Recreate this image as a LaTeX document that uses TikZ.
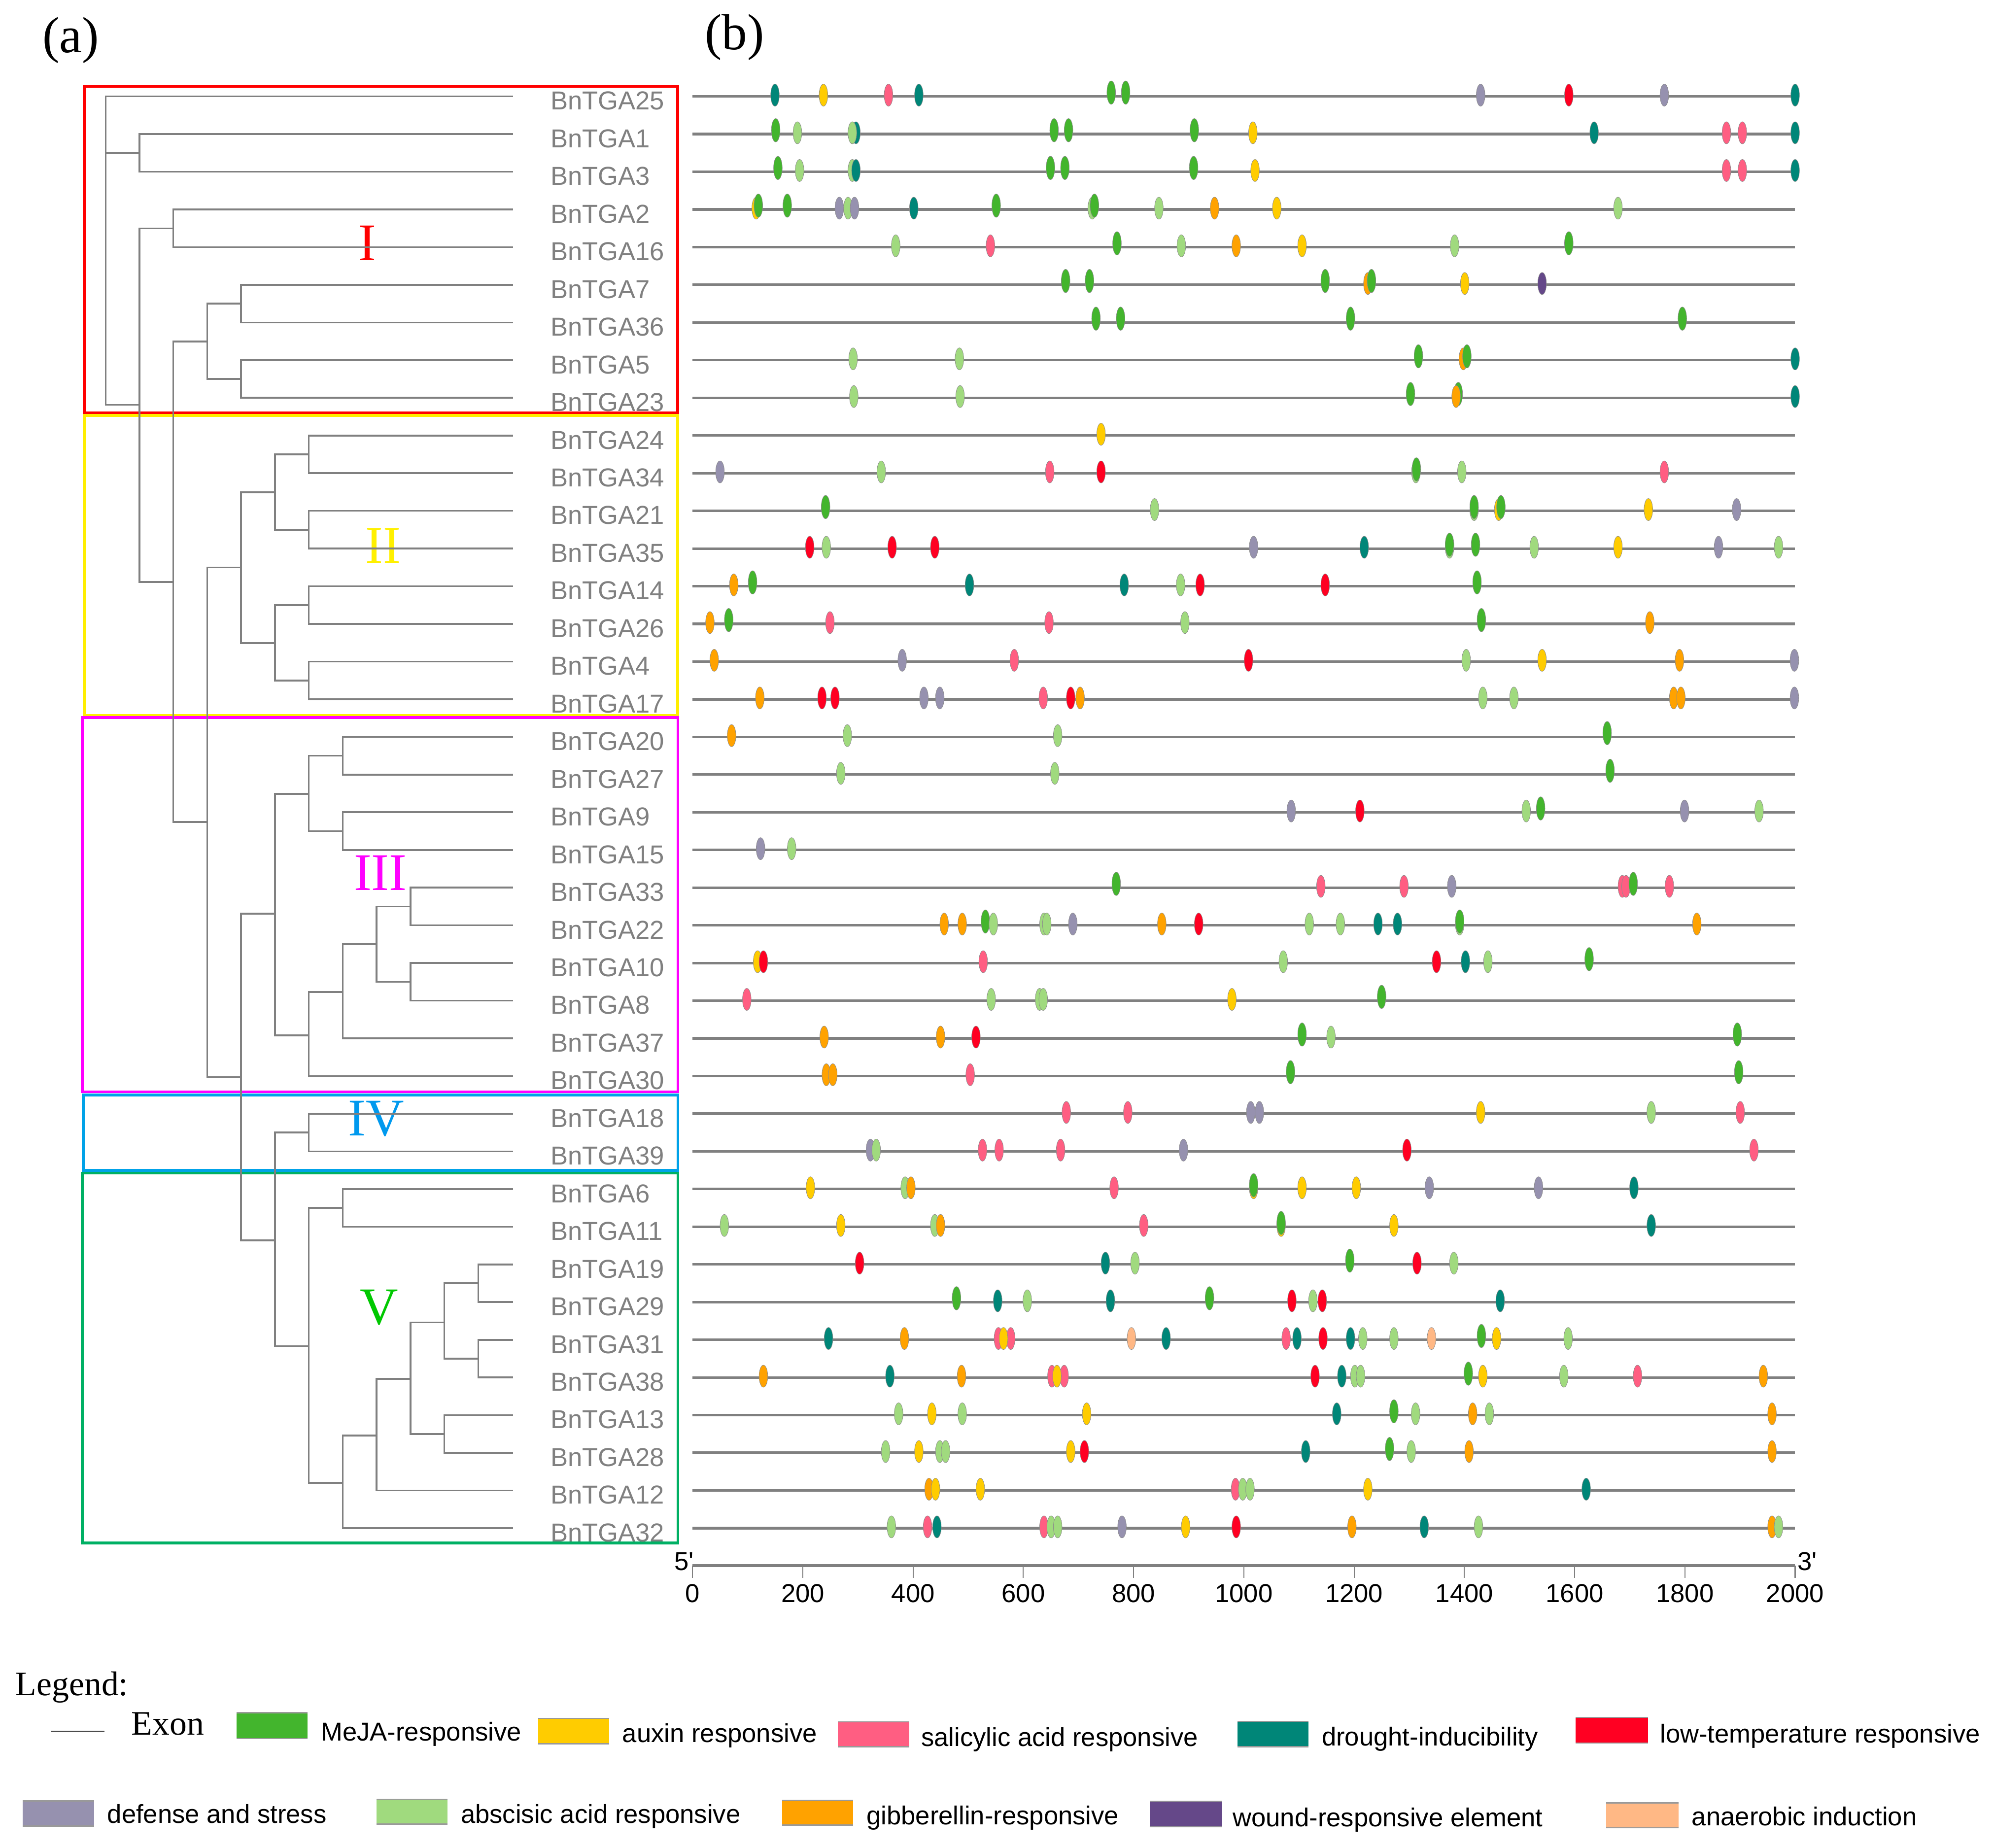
\documentclass[tikz,border=0pt]{standalone}
\usepackage{fontspec}
\setmainfont{Liberation Serif}
\setsansfont{Liberation Sans}
\definecolor{cM}{RGB}{67,181,45}
\definecolor{cX}{RGB}{255,204,0}
\definecolor{cS}{RGB}{255,94,130}
\definecolor{cD}{RGB}{0,134,120}
\definecolor{cL}{RGB}{255,0,34}
\definecolor{cF}{RGB}{150,145,175}
\definecolor{cA}{RGB}{160,218,126}
\definecolor{cG}{RGB}{255,162,0}
\definecolor{cW}{RGB}{101,72,137}
\definecolor{cN}{RGB}{255,184,133}
\definecolor{treegray}{RGB}{128,128,128}
\definecolor{labgray}{RGB}{128,128,128}
\definecolor{boxred}{RGB}{255,0,0}
\definecolor{boxyellow}{RGB}{255,238,0}
\definecolor{boxmag}{RGB}{255,0,255}
\definecolor{boxblue}{RGB}{0,162,232}
\definecolor{boxgreen}{RGB}{0,176,100}
\definecolor{numyellow}{RGB}{255,240,0}
\definecolor{numblue}{RGB}{0,153,238}
\definecolor{numgreen}{RGB}{0,200,0}
\tikzset{
  treeline/.style={draw=treegray, line width=0.7pt, line cap=rect},
  trackline/.style={draw=treegray, line width=1.0pt},
  tickline/.style={draw=treegray, line width=0.4pt},
  motifshape/.style={draw=black!45, line width=0.15pt},
  cladebox/.style={line width=1.1pt},
  romanlabel/.style={font=\fontsize{20.8}{24}\selectfont, inner sep=0pt, anchor=base},
  panel/.style={font=\fontsize{20}{24}\selectfont, inner sep=0pt, anchor=base west},
  genelabel/.style={font=\sffamily\fontsize{10.2}{12}\selectfont, text=labgray, inner sep=0pt, anchor=base west},
  axislabel/.style={font=\sffamily\fontsize{10.2}{12}\selectfont, inner sep=0pt, anchor=base},
  legtext/.style={font=\sffamily\fontsize{10.2}{12}\selectfont, inner sep=0pt, anchor=base west},
  legserif/.style={font=\fontsize{13.5}{16}\selectfont, inner sep=0pt, anchor=base west},
  legedge/.style={draw=black!40, line width=0.5pt},
}
\def\mletM{M}
\newcommand\motifat[3]{%
  \def\mtmp{#3}%
  \ifx\mtmp\mletM
    \path[motifshape, fill=cM] ({544.6+0.4335*#2},{75.8+29.63*#1-3}) ellipse [x radius=1.7pt, y radius=4.6pt];
  \else
    \path[motifshape, fill=c#3] ({544.6+0.4335*#2},{75.8+29.63*#1-1}) ellipse [x radius=1.7pt, y radius=4.35pt];
  \fi}
\newcommand\mrow[2]{\foreach \v/\c in {#2}{\edef\mtmpb{\noexpand\motifat{#1}{\v}{\c}}\mtmpb}}
\newcommand\legbox[5]{%
  \fill[#1] (#2,#3) rectangle (#4,#5);
  \draw[legedge] (#2,#3) -- (#4,#3);
  \draw[legedge] (#2,#5) -- (#4,#5);}
\begin{document}
\begin{tikzpicture}[x=0.5pt,y=-0.5pt]
\useasboundingbox (0,0) rectangle (1568,1453);
% panel letters
\node[panel] (pa) at (33,41.1) {(a)};
\node[panel] (pb) at (554,38.8) {(b)};
% clade boxes
\draw[cladebox, draw=boxred] (66.2,67.8) rectangle (532.8,324.6);
\draw[cladebox, draw=boxyellow] (66.2,326.6) rectangle (532.8,562.5);
\draw[cladebox, draw=boxmag] (64.6,564.2) rectangle (533.0,858.6);
\draw[cladebox, draw=boxblue] (65.5,861.0) rectangle (533.0,920.3);
\draw[cladebox, draw=boxgreen] (64.6,922.5) rectangle (533.0,1213.4);
\node[romanlabel, text=boxred] (nI) at (288.9,205) {I};
\node[romanlabel, text=numyellow] (nII) at (301.4,442.8) {II};
\node[romanlabel, text=boxmag] (nIII) at (299.1,700.2) {III};
\node[romanlabel, text=numblue] (nIV) at (295.9,893) {IV};
\node[romanlabel, text=numgreen] (nV) at (298.2,1041.6) {V};
% tree: leaves
\foreach \i/\lx in {0/83.2,1/109.6,2/109.6,3/136.2,4/136.2,5/189.5,6/189.5,7/189.5,8/189.5,
  9/242.8,10/242.8,11/242.8,12/242.8,13/242.8,14/242.8,15/242.8,16/242.8,
  17/269.5,18/269.5,19/269.5,20/269.5,21/322.8,22/322.8,23/322.8,24/322.8,25/269.5,26/242.8,
  27/242.8,28/242.8,29/269.5,30/269.5,31/376.1,32/376.1,33/376.1,34/376.1,35/349.4,36/349.4,37/296.1,38/269.5}
  \draw[treeline] (\lx,{75.8+29.63*\i}) -- (402.7,{75.8+29.63*\i});
% tree: verticals
\foreach \x/\ya/\yb in {83.2/75.8/318.4, 109.6/105.43/135.06, 109.6/179.6/457.6, 136.2/164.69/194.32,
  136.2/268.6/646.4, 162.9/238.8/298.0, 189.5/223.95/253.58, 189.5/283.21/312.84,
  162.9/446.3/847.2, 189.5/387.2/505.8, 216.2/357.3/416.6, 242.8/342.47/372.10, 242.8/401.73/431.36,
  216.2/475.8/535.1, 242.8/460.99/490.62, 242.8/520.25/549.88,
  189.5/718.6/975.4, 216.2/624.2/814.1, 242.8/594.3/653.6, 269.5/579.51/609.14, 269.5/638.77/668.40,
  242.8/780.2/846.18, 269.5/742.5/816.55, 296.1/712.8/772.1, 322.8/698.03/727.66, 322.8/757.29/786.92,
  216.2/890.6/1058.6, 242.8/875.81/905.44, 242.8/949.9/1166.0, 269.5/935.07/964.70,
  269.5/1129.0/1201.74, 296.1/1084.4/1172.11, 322.8/1039.9/1127.7, 349.4/1009.1/1068.4,
  376.1/994.33/1023.96, 376.1/1053.59/1083.22, 349.4/1112.85/1142.48}
  \draw[treeline] (\x,\ya) -- (\x,\yb);
% tree: internal horizontals
\foreach \y/\xa/\xb in {120.2/83.2/109.6, 318.4/83.2/109.6, 179.6/109.6/136.2, 457.6/109.6/136.2,
  268.6/136.2/162.9, 238.8/162.9/189.5, 298.0/162.9/189.5, 646.4/136.2/162.9, 446.3/162.9/189.5,
  387.2/189.5/216.2, 357.3/216.2/242.8, 416.6/216.2/242.8, 505.8/189.5/216.2, 475.8/216.2/242.8,
  535.1/216.2/242.8, 847.2/162.9/189.5, 718.6/189.5/216.2, 624.2/216.2/242.8, 594.3/242.8/269.5,
  653.6/242.8/269.5, 814.1/216.2/242.8, 780.2/242.8/269.5, 742.5/269.5/296.1, 712.8/296.1/322.8,
  772.1/296.1/322.8, 975.4/189.5/216.2, 890.6/216.2/242.8, 1058.6/216.2/242.8, 949.9/242.8/269.5,
  1166.0/242.8/269.5, 1129.0/269.5/296.1, 1084.4/296.1/322.8, 1039.9/322.8/349.4, 1009.1/349.4/376.1,
  1068.4/349.4/376.1, 1127.7/322.8/349.4}
  \draw[treeline] (\xa,\y) -- (\xb,\y);
% gene labels
\foreach \n [count=\i from 0] in {25,1,3,2,16,7,36,5,23,24,34,21,35,14,26,4,17,20,27,9,15,33,22,10,8,37,30,18,39,6,11,19,29,31,38,13,28,12,32}
  \node[genelabel] (g\n) at (432.5,{75.8+29.63*\i+10.6}) {BnTGA\n};
% tracks
\foreach \i in {0,...,38}
  \draw[trackline] (544.6,{75.8+29.63*\i}) -- (1411.6,{75.8+29.63*\i});
% motifs
\mrow{0}{149.5/D,237.4/X,355.4/S,410.5/D,759.4/M,785.6/M,1429.5/F,1589.5/L,1762.7/F,2000/D}
\mrow{1}{150.8/M,190.2/A,296.4/D,289.8/A,655.8/M,682.0/M,910.2/M,1016.4/X,1635.4/D,1875.4/S,1904.3/S,2000/D}
\mrow{2}{154.8/M,194.1/A,289.8/A,296.4/D,649.2/M,675.4/M,908.9/M,1020.3/X,1875.4/S,1904.3/S,2000/D}
\mrow{3}{115.4/X,119.3/M,171.8/M,266.2/F,282.0/A,293.8/F,401.3/D,550.8/M,725/A,729/M,845.9/A,946.9/G,1059.7/X,1678.7/A}
\mrow{4}{368.5/A,540.3/S,769.9/M,886.6/A,986.2/G,1105.6/X,1382.3/A,1589.5/M}
\mrow{5}{676.7/M,720.0/M,1147.6/M,1225.0/G,1231.5/M,1400.7/X,1541.0/W}
\mrow{6}{731.8/M,776.4/M,1193.5/M,1795.4/M}
\mrow{7}{291.2/A,484.0/A,1316.7/M,1398.1/G,1404.6/M,2000/D}
\mrow{8}{292.5/A,485.3/A,1302.3/M,1388.9/M,1385.0/G,2000/D}
\mrow{9}{741.0/X}
\mrow{10}{49.8/F,342.3/A,647.9/S,741.0/L,1312/A,1313/M,1395.4/A,1762.7/S}
\mrow{11}{241.3/M,838.0/A,1417.7/A,1417.7/M,1462.3/X,1466.3/M,1733.8/X,1893.8/F}
\mrow{12}{212.5/L,242.6/A,362.0/L,439.4/L,1017.7/F,1218.4/D,1373.1/A,1373.1/M,1420.3/M,1526.6/A,1678.7/X,1861.0/F,1969.9/A}
\mrow{13}{74.8/G,108.9/M,502.3/D,783.0/D,885.3/A,920.7/L,1147.6/L,1423.0/M}
\mrow{14}{31.5/G,65.6/M,249.2/S,646.6/S,893.1/A,1430.9/M,1736.4/G}
\mrow{15}{39.3/G,380.3/F,583.6/S,1008.5/L,1403.3/A,1541.0/X,1790.2/G,1998.7/F}
\mrow{16}{122.0/G,234.8/L,258.4/L,419.7/F,448.5/F,636.1/S,685.9/L,703.0/G,1433.5/A,1489.9/A,1779.7/G,1792.8/G,1998.7/F}
\mrow{17}{70.8/G,280.7/A,662.3/A,1659.0/M}
\mrow{18}{268.9/A,657.1/A,1664.3/M}
\mrow{19}{1085.9/F,1210.5/L,1512.2/A,1538.4/M,1799.4/F,1934.5/A}
\mrow{20}{123.3/F,179.7/A}
\mrow{21}{768.5/M,1139.7/S,1290.5/S,1377.1/F,1686.6/S,1693.2/S,1706.3/M,1771.9/S}
\mrow{22}{456.4/G,489.2/G,531.2/M,545.6/A,637.4/A,642.6/A,689.8/F,851.2/G,918.1/L,1118.7/A,1175.1/A,1243.3/D,1278.7/D,1391.5/A,1391.5/M,1821.7/G}
\mrow{23}{118.0/X,128.5/L,527.2/S,1071.5/A,1349.5/L,1402.0/D,1442.7/A,1626.3/M}
\mrow{24}{98.4/S,541.7/A,629.5/A,636.1/A,978.4/X,1249.9/M}
\mrow{25}{238.7/G,449.8/G,514.1/L,1105.6/M,1158.1/A,1895.1/M}
\mrow{26}{242.6/G,254.4/G,503.6/S,1084.6/M,1897.7/M}
\mrow{27}{678.0/S,789.5/S,1012.5/F,1028.2/F,1429.5/X,1739.0/A,1900.4/S}
\mrow{28}{322.6/F,333.1/A,525.9/S,556.1/S,667.6/S,890.5/F,1295.8/L,1925.3/S}
\mrow{29}{213.8/X,385.6/A,396.1/G,764.6/S,1017.7/X,1017.7/M,1105.6/X,1204.0/X,1336.4/F,1534.5/F,1707.6/D}
\mrow{30}{57.7/A,268.9/X,439.4/A,449.8/G,818.4/S,1067.6/X,1067.6/M,1272.2/X,1739.0/D}
\mrow{31}{303.0/L,748.9/D,802.6/A,1192.2/M,1314.1/L,1381.0/A}
\mrow{32}{478.7/M,553.5/D,607.2/A,758.0/D,937.7/M,1087.2/L,1125.3/A,1142.3/L,1465.0/D}
\mrow{33}{246.6/D,384.3/G,554.8/S,577.1/S,564.0/X,796.1/N,859.0/D,1076.7/S,1096.4/D,1143.6/L,1193.5/D,1215.8/A,1272.2/A,1340.4/N,1430.9/M,1458.4/X,1588.2/A}
\mrow{34}{128.5/G,358.0/D,487.9/G,651.8/S,674.1/S,661.0/X,1129.2/L,1177.7/D,1201.3/A,1211.8/A,1407.2/M,1433.5/X,1580.4/A,1714.1/S,1942.3/G}
\mrow{35}{373.8/A,434.1/X,489.2/A,714.8/X,1168.5/D,1272.2/M,1311.5/A,1415.1/G,1445.3/A,1958.1/G}
\mrow{36}{350.2/A,410.5/X,448.5/A,459.0/A,685.9/X,710.8/L,1112.2/D,1264.3/M,1303.6/A,1408.5/G,1958.1/G}
\mrow{37}{428.9/G,440.7/X,522.0/X,984.9/S,998.0/A,1011.2/A,1224.9/X,1621.0/D}
\mrow{38}{360.7/A,426.2/S,443.3/D,637.4/S,650.5/A,662.3/A,779.0/F,894.4/X,986.2/L,1196.1/G,1327.2/D,1425.6/A,1958.1/G,1969.9/A}
% axis
\draw[trackline] (544.6,1231.2) -- (1411.6,1231.2);
\foreach \k in {0,...,10}{
  \draw[tickline] ({544.6+86.7*\k},1231.2) -- ({544.6+86.7*\k},1240.8);
  \pgfmathtruncatemacro\lab{200*\k}
  \node[axislabel] (t\k) at ({544.6+86.7*\k},1260) {\lab};
}
\node[axislabel, anchor=base east] (five) at (546,1234.8) {5\textquotesingle};
\node[axislabel, anchor=base west] (three) at (1413,1234.8) {3\textquotesingle};
% legend
\node[legserif] (leg) at (12,1333.4) {Legend:};
\coordinate (exa) at (40,1361.7);
\coordinate (exb) at (82,1361.7);
\draw[draw=black!70, line width=0.5pt] (exa) -- (exb);
\node[legserif] (exon) at (103,1364.3) {Exon};
\legbox{cM}{186}{1346.9}{242}{1367.3}
\node[legtext] (lM) at (252,1368.8) {MeJA-responsive};
\legbox{cX}{423}{1351.4}{479}{1371.4}
\node[legtext] (lX) at (489,1370.0) {auxin responsive};
\legbox{cS}{659}{1354.0}{715}{1373.7}
\node[legtext] (lS) at (724,1373.3) {salicylic acid responsive};
\legbox{cD}{973}{1353.6}{1029}{1373.7}
\node[legtext] (lD) at (1039,1373.0) {drought-inducibility};
\legbox{cL}{1239}{1350.5}{1296}{1370.7}
\node[legtext] (lL) at (1305,1370.7) {low-temperature responsive};
\legbox{cF}{18}{1416.2}{74}{1436.1}
\node[legtext] (lF) at (84,1433.8) {defense and stress};
\legbox{cA}{296}{1414.9}{352}{1434.4}
\node[legtext] (lA) at (362,1433.8) {abscisic acid responsive};
\legbox{cG}{615}{1415.8}{671}{1435.3}
\node[legtext] (lG) at (681,1435.0) {gibberellin-responsive};
\legbox{cW}{904}{1416.4}{961}{1436.6}
\node[legtext] (lW) at (969,1436.4) {wound-responsive element};
\legbox{cN}{1263}{1417.7}{1320}{1437.3}
\node[legtext] (lN) at (1330,1435.7) {anaerobic induction};
\end{tikzpicture}
\end{document}
